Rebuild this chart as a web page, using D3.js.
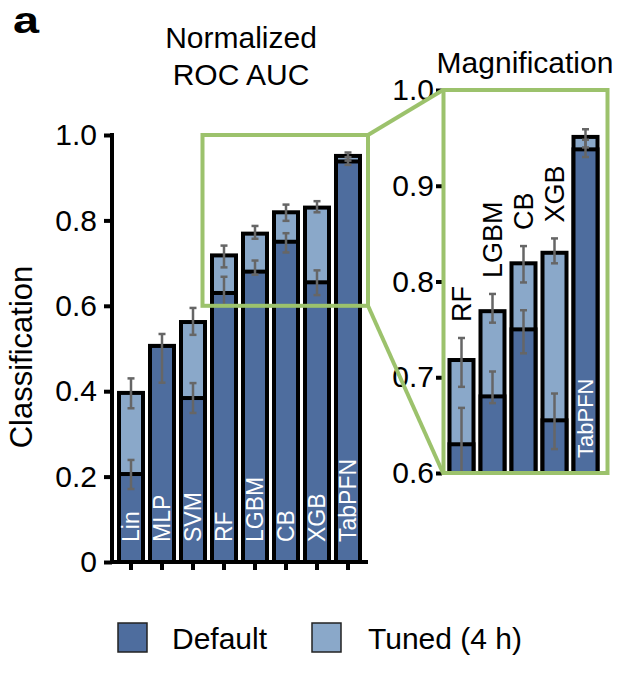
<!DOCTYPE html>
<html>
<head>
<meta charset="utf-8">
<script src="https://cdn.jsdelivr.net/npm/d3@7"></script>
<style>
  body { margin: 0; background: #fff; }
  text { font-family: "Liberation Sans", Arial, Helvetica, sans-serif; }
</style>
</head>
<body>
<div id="chart"></div>
<script>
// models and scores (normalized ROC AUC)
var models = ["Lin", "MLP", "SVM", "RF", "LGBM", "CB", "XGB", "TabPFN"];
var defaultScore = [0.206, 0.506, 0.384, 0.630, 0.680, 0.750, 0.655, 0.938];
var tunedScore   = [0.396, 0.506, 0.562, 0.718, 0.769, 0.819, 0.830, 0.951];
var defaultLow   = [0.171, 0.420, 0.349, 0.600, 0.673, 0.725, 0.625, 0.930];
var defaultHigh  = [0.239, 0.534, 0.419, 0.668, 0.706, 0.770, 0.683, 0.948];
var tunedLow     = [0.360, null,  0.532, 0.690, 0.757, 0.799, 0.819, 0.940];
var tunedHigh    = [0.430, null,  0.595, 0.741, 0.787, 0.837, 0.845, 0.959];
var zoomModels = ["RF", "LGBM", "CB", "XGB", "TabPFN"];
var mainTicks = [0, 0.2, 0.4, 0.6, 0.8, 1.0];
var zoomTicks = [0.6, 0.7, 0.8, 0.9, 1.0];
var legendLabels = ["Default", "Tuned (4 h)"];

var colDefault = "#4e6d9e", colTuned = "#8aa8c9", colGreen = "#9cc26c", colErr = "#666";

var rows = models.map(function(m, i) {
    return {model: m, def: defaultScore[i], tun: tunedScore[i],
            dLo: defaultLow[i], dHi: defaultHigh[i], tLo: tunedLow[i], tHi: tunedHigh[i]};
});

var svg = d3.select("#chart").append("svg")
    .attr("width", 629)
    .attr("height", 680);

// panel letter + titles
svg.append("text").attr("transform", "translate(13,33) scale(1.3,1)")
    .style("font-size", "36px").style("font-weight", "bold").text("a");
svg.append("text").attr("x", 241).attr("y", 48).attr("text-anchor", "middle")
    .style("font-size", "30px").text("Normalized");
svg.append("text").attr("x", 241).attr("y", 85).attr("text-anchor", "middle")
    .style("font-size", "30px").text("ROC AUC");
svg.append("text").attr("x", 525).attr("y", 73).attr("text-anchor", "middle")
    .style("font-size", "30px").text("Magnification");

// ---- main panel ----
var x = d3.scaleBand().domain(models).range([115.5, 363.5]);
var y = d3.scaleLinear().domain([0, 1]).range([562, 135]);
var barW = 24;

var main = svg.append("g");

function drawBars(g, data, xs, ys, base) {
    var bars = g.selectAll("g.bar").data(data).enter().append("g").attr("class", "bar");
    bars.append("rect")
        .attr("x", function(d) { return xs(d.model) + xs.bandwidth() / 2 - barW / 2; })
        .attr("y", function(d) { return ys(d.tun); })
        .attr("width", barW)
        .attr("height", function(d) { return ys(base) - ys(d.tun); })
        .attr("fill", colTuned).attr("stroke", "#000").attr("stroke-width", 4);
    bars.append("rect")
        .attr("x", function(d) { return xs(d.model) + xs.bandwidth() / 2 - barW / 2; })
        .attr("y", function(d) { return ys(d.def); })
        .attr("width", barW)
        .attr("height", function(d) { return ys(base) - ys(d.def); })
        .attr("fill", colDefault).attr("stroke", "#000").attr("stroke-width", 4);
    // error bars
    var errs = [];
    data.forEach(function(d) {
        errs.push({model: d.model, lo: d.dLo, hi: d.dHi});
        if (d.tLo != null) errs.push({model: d.model, lo: d.tLo, hi: d.tHi});
    });
    var e = g.selectAll("g.err").data(errs).enter().append("g").attr("class", "err")
        .attr("stroke", colErr).attr("stroke-width", 2.5);
    var cx = function(d) { return xs(d.model) + xs.bandwidth() / 2; };
    e.append("line")
        .attr("x1", cx).attr("x2", cx)
        .attr("y1", function(d) { return ys(Math.max(d.lo, base)); })
        .attr("y2", function(d) { return ys(d.hi); });
    e.append("line")
        .attr("x1", function(d) { return cx(d) - 3.5; }).attr("x2", function(d) { return cx(d) + 3.5; })
        .attr("y1", function(d) { return ys(d.hi); }).attr("y2", function(d) { return ys(d.hi); });
    e.filter(function(d) { return d.lo >= base; }).append("line")
        .attr("x1", function(d) { return cx(d) - 3.5; }).attr("x2", function(d) { return cx(d) + 3.5; })
        .attr("y1", function(d) { return ys(d.lo); }).attr("y2", function(d) { return ys(d.lo); });
}

drawBars(main, rows, x, y, 0);

// labels inside bars
main.selectAll("text.lbl").data(models).enter().append("text")
    .attr("class", "lbl")
    .attr("transform", function(d) { return "translate(" + (x(d) + x.bandwidth() / 2) + ",542) rotate(-90)"; })
    .attr("dy", "0.36em")
    .style("font-size", "23px").style("fill", "#fff")
    .text(function(d) { return d; });

// y axis
var yAxis = main.append("g")
    .attr("transform", "translate(112,0)")
    .call(d3.axisLeft(y).tickValues(mainTicks).tickSize(8).tickSizeOuter(0).tickPadding(7)
        .tickFormat(function(d) { return d === 0 ? "0" : d3.format(".1f")(d); }));
yAxis.select(".domain").attr("stroke-width", 4).attr("d", "M0,133V564");
yAxis.selectAll(".tick line").attr("stroke-width", 4);
yAxis.selectAll(".tick text").style("font-size", "30px").style("font-family", "Liberation Sans, Arial, sans-serif").attr("fill", "#000");

// x axis
var xAxis = main.append("g")
    .attr("transform", "translate(0,562)")
    .call(d3.axisBottom(x).tickSize(8).tickSizeOuter(0).tickFormat(""));
xAxis.select(".domain").attr("stroke-width", 4).attr("d", "M110,0H368");
xAxis.selectAll(".tick line").attr("stroke-width", 4);

main.append("text")
    .attr("transform", "translate(32,357) rotate(-90)")
    .attr("text-anchor", "middle")
    .style("font-size", "31px")
    .text("Classification");

// green box in main panel
var boxL = x("RF") - 6, boxR = 368;
main.append("rect")
    .attr("x", boxL).attr("y", y(1.0))
    .attr("width", boxR - boxL).attr("height", y(0.6) - y(1.0))
    .attr("fill", "none").attr("stroke", colGreen).attr("stroke-width", 4);

// ---- magnification panel ----
var zx = d3.scaleBand().domain(zoomModels).range([446, 601]);
var zy = d3.scaleLinear().domain([0.6, 1.0]).range([473, 90]);
var zoomRows = rows.filter(function(d) { return zoomModels.indexOf(d.model) >= 0; });

var mag = svg.append("g");
drawBars(mag, zoomRows, zx, zy, 0.6);

// labels above bars, TabPFN inside
mag.selectAll("text.zl").data(zoomRows).enter().append("text")
    .attr("class", "zl")
    .attr("transform", function(d) {
        var cx = zx(d.model) + zx.bandwidth() / 2;
        var yy = d.model === "TabPFN" ? 458 : zy(d.tHi) - 16;
        return "translate(" + cx + "," + yy + ") rotate(-90)";
    })
    .attr("dy", "0.36em")
    .style("font-size", function(d) { return d.model === "TabPFN" ? "22px" : "27px"; })
    .style("fill", function(d) { return d.model === "TabPFN" ? "#fff" : "#000"; })
    .text(function(d) { return d.model; });

var zAxis = mag.append("g")
    .attr("transform", "translate(442,0)")
    .call(d3.axisLeft(zy).tickValues(zoomTicks).tickSize(6).tickSizeOuter(0).tickPadding(2)
        .tickFormat(d3.format(".1f")));
zAxis.select(".domain").remove();
zAxis.selectAll(".tick line").attr("stroke-width", 4);
zAxis.selectAll(".tick text").style("font-size", "30px").style("font-family", "Liberation Sans, Arial, sans-serif").attr("fill", "#000");

// connecting lines and magnification box
svg.append("line").attr("x1", boxR).attr("y1", y(1.0)).attr("x2", 443).attr("y2", zy(1.0))
    .attr("stroke", colGreen).attr("stroke-width", 4);
svg.append("line").attr("x1", boxR).attr("y1", y(0.6)).attr("x2", 443).attr("y2", zy(0.6))
    .attr("stroke", colGreen).attr("stroke-width", 4);
svg.append("rect")
    .attr("x", 443.5).attr("y", zy(1.0))
    .attr("width", 164).attr("height", zy(0.6) - zy(1.0))
    .attr("fill", "none").attr("stroke", colGreen).attr("stroke-width", 4);

// legend
var legend = svg.append("g").attr("transform", "translate(0,623)");
var items = legend.selectAll("g").data(legendLabels).enter().append("g")
    .attr("transform", function(d, i) { return "translate(" + (i === 0 ? 118 : 312) + ",0)"; });
items.append("rect").attr("width", 29).attr("height", 29)
    .attr("fill", function(d, i) { return i === 0 ? colDefault : colTuned; })
    .attr("stroke", "#222").attr("stroke-width", 1.5);
items.append("text").attr("x", function(d, i) { return i === 0 ? 54 : 56; }).attr("y", 26)
    .style("font-size", "30px").text(function(d) { return d; });
</script>
</body>
</html>
